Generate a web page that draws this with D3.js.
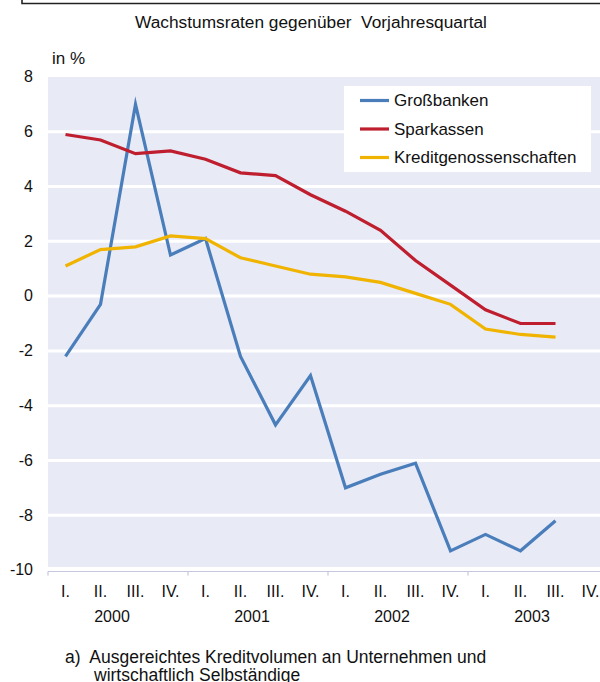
<!DOCTYPE html>
<html>
<head>
<meta charset="utf-8">
<script src="https://cdn.jsdelivr.net/npm/d3@7"></script>
<style>
  html, body { margin: 0; padding: 0; background: #fff; }
  svg { display: block; font-family: "Liberation Sans", Arial, sans-serif; }
  text { white-space: pre; }
</style>
</head>
<body>
<svg id="chart" width="600" height="682"></svg>
<script>
const quarters = ["I.","II.","III.","IV.","I.","II.","III.","IV.","I.","II.","III.","IV.","I.","II.","III.","IV."];
const years = ["2000","2001","2002","2003"];
const grossbanken = [-2.2, -0.3, 7.0, 1.5, 2.1, -2.2, -4.7, -2.9, -7.0, -6.5, -6.1, -9.3, -8.7, -9.3, -8.2];
const sparkassen = [5.9, 5.7, 5.2, 5.3, 5.0, 4.5, 4.4, 3.7, 3.1, 2.4, 1.3, 0.4, -0.5, -1.0, -1.0];
const kredit = [1.1, 1.7, 1.8, 2.2, 2.1, 1.4, 1.1, 0.8, 0.7, 0.5, 0.1, -0.3, -1.2, -1.4, -1.5];
const yTicks = [-10, -8, -6, -4, -2, 0, 2, 4, 6, 8];
const seriesNames = ["Großbanken", "Sparkassen", "Kreditgenossenschaften"];
const seriesColors = ["#4a7ebb", "#be1e2d", "#f0b400"];

const svg = d3.select("#chart");
const idx = quarters.map((q, i) => i);
const x = d3.scaleBand().domain(idx).range([48, 608]).padding(0);
const y = d3.scaleLinear().domain([-10, 8]).range([570, 77]);

// frame line at top
svg.append("path").attr("d", "M22,0 V3.5 H600").attr("fill", "none").attr("stroke", "#222").attr("stroke-width", 1.6);

// title
svg.append("text").attr("x", 311).attr("y", 28).attr("text-anchor", "middle")
  .attr("font-size", 17.3).attr("fill", "#111").text("Wachstumsraten gegenüber  Vorjahresquartal");
svg.append("text").attr("x", 52).attr("y", 64).attr("font-size", 17).attr("fill", "#111").text("in %");

// plot background
svg.append("rect").attr("x", 48).attr("y", y(8)).attr("width", 560).attr("height", y(-10) - y(8)).attr("fill", "#e8eaf6");

// gridlines
svg.append("g").selectAll("line").data(yTicks.filter(t => t > -10 && t < 8)).join("line")
  .attr("x1", 48).attr("x2", 608).attr("y1", d => y(d)).attr("y2", d => y(d))
  .attr("stroke", "#fff").attr("stroke-width", 3);
svg.append("rect").attr("x", 48).attr("y", y(-10) - 3).attr("width", 560).attr("height", 4).attr("fill", "#fff");

// y axis labels
const yAxis = d3.axisLeft(y).tickValues(yTicks).tickFormat(d => String(d)).tickSize(0).tickPadding(0);
const gy = svg.append("g").attr("transform", "translate(33,0)").call(yAxis);
gy.select(".domain").remove();
gy.selectAll("text").attr("font-size", 16).attr("fill", "#111").attr("font-family", "Liberation Sans, Arial, sans-serif").attr("dy", "0.3em");

// x axis line & ticks
const xAxisY = 571.5;
svg.append("line").attr("x1", 48).attr("x2", 608).attr("y1", xAxisY).attr("y2", xAxisY).attr("stroke", "#c4c8dc").attr("stroke-width", 1.2);
svg.append("g").selectAll("line").data([0, 4, 8, 12]).join("line")
  .attr("x1", d => x(d)).attr("x2", d => x(d)).attr("y1", xAxisY).attr("y2", xAxisY + 4)
  .attr("stroke", "#c4c8dc").attr("stroke-width", 1.2);

// quarter labels
const xAxis = d3.axisBottom(x).tickFormat(i => quarters[i]).tickSize(0).tickPadding(0);
const gx = svg.append("g").attr("transform", "translate(0,586)").call(xAxis);
gx.select(".domain").remove();
gx.selectAll("text").attr("font-size", 16).attr("fill", "#111").attr("font-family", "Liberation Sans, Arial, sans-serif").attr("dy", "0.71em");

// year labels
svg.append("g").selectAll("text").data(years).join("text")
  .attr("x", (d, i) => x(i * 4) + x.bandwidth() * 2 - 6)
  .attr("y", 622).attr("text-anchor", "middle").attr("font-size", 16).attr("fill", "#111").text(d => d);

// lines
const line = d3.line().x((d, i) => x(i) + x.bandwidth() / 2).y(d => y(d));
[grossbanken, sparkassen, kredit].forEach((s, k) => {
  svg.append("path").datum(s).attr("d", line).attr("fill", "none")
    .attr("stroke", seriesColors[k]).attr("stroke-width", 3.2).attr("stroke-linejoin", "miter").attr("stroke-miterlimit", 10);
});

// legend
const lg = svg.append("g");
lg.append("rect").attr("x", 344).attr("y", 86).attr("width", 247).attr("height", 86).attr("fill", "#fff");
seriesNames.forEach((n, k) => {
  const yy = 100.5 + k * 28.5;
  lg.append("line").attr("x1", 360).attr("x2", 389).attr("y1", yy).attr("y2", yy)
    .attr("stroke", seriesColors[k]).attr("stroke-width", 3.2);
  lg.append("text").attr("x", 394).attr("y", yy).attr("dy", "0.35em").attr("font-size", 17).attr("fill", "#111").text(n);
});

// footnote
svg.append("text").attr("x", 65).attr("y", 663).attr("font-size", 17.5).attr("fill", "#111")
  .text("a)  Ausgereichtes Kreditvolumen an Unternehmen und");
svg.append("text").attr("x", 94).attr("y", 681).attr("font-size", 17.5).attr("fill", "#111").text("wirtschaftlich Selbständige");
</script>
</body>
</html>
